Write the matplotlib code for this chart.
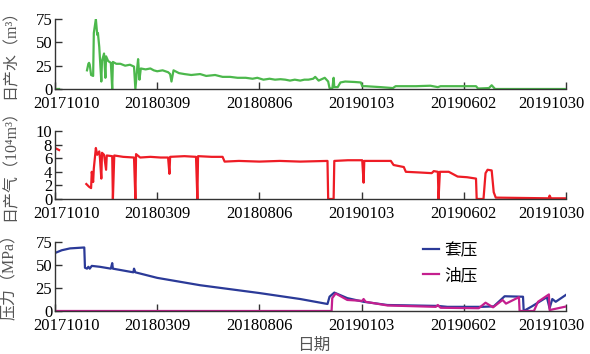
import numpy as np
import pandas as pd
import matplotlib
matplotlib.use('Agg')
import matplotlib.pyplot as plt
import matplotlib.transforms as mtransforms

plt.rcParams['font.family'] = ['Liberation Serif', 'Noto Sans CJK SC']

start = pd.Timestamp('2017-10-10')
nan = np.nan

# days after 2017-10-10 / values
water_days = [0, 6, 7, 47, 49, 50, 51, 53, 56, 57, 60, 62, 63, 65, 68, 69, 72, 74, 75, 78, 82, 84, 85,
              90, 96, 103, 110, 116, 118, 121, 122, 124, 126, 133, 140, 145, 150, 158, 166, 169, 171,
              174, 182, 190, 200, 213, 222, 235, 246, 257, 268, 280, 290, 297, 306, 315, 323, 331,
              338, 345, 352, 360, 366, 372, 379, 382, 387, 396, 401, 403, 407, 409, 410, 415,
              419, 426, 440, 449, 451, 456, 478, 496, 500, 530, 551, 562, 566, 600, 618, 621, 637,
              641, 646, 751]
water = [0, 0, nan, 20, 27, 28, 26, 15, 14, 60, 75, 58, 60, 45, 8, 30, 38, 12, 35, 30, 28, 0, 29,
         27, 27, 25, 26, 24, 0, 25, 32, 10, 22, 21, 22, 20, 19, 20, 18, 16, 8,
         20, 17, 16, 15, 16, 14, 15, 13, 13, 12, 12, 11, 12, 10, 11, 10, 10.5,
         10, 9, 10, 9, 10, 10, 11, 13, 9, 12, 8, 1, 0, 12, 2, 2,
         7, 8, 7.5, 7, 3, 3, 2, 1, 3, 3, 3.5, 2, 3, 3, 3, 0.5, 1,
         4, 0, 0]

gas_days = [0, 6, 7, 46, 50, 53, 54, 56, 57, 60, 62, 65, 66, 68, 69, 72, 75, 76, 84, 85, 87, 100, 116,
            118, 119, 125, 140, 155, 166, 168, 169, 190, 207, 209, 210, 230, 246, 249, 270, 300,
            330, 360, 400, 401, 409, 410, 430, 451, 453, 454, 470, 493, 497, 512, 515, 535, 553,
            556, 562, 563, 565, 578, 591, 605, 618, 619, 629, 632, 635, 641, 644, 647, 725, 726,
            728, 751]
gas = [7.5, 7.2, nan, 2.2, 1.8, 1.6, 4.0, 2.5, 4.5, 7.5, 6.5, 7.0, 6.0, 3.0, 6.8, 6.5, 4.3, 6.4, 6.3, 0, 6.4,
       6.2, 6.1,
       0, 6.6, 6.1, 6.2, 6.1, 6.1, 3.7, 6.2, 6.3, 6.2, 0, 6.3, 6.2, 6.2, 5.5, 5.6, 5.5,
       5.6, 5.5, 5.6, 0, 0, 5.6, 5.7, 5.7, 2.4, 5.6, 5.6, 5.6, 5.0, 4.7, 4.0, 3.9, 3.8,
       4.1, 4.0, 0, 4.0, 4.0, 3.3, 3.2, 3.0, 0, 0, 3.8, 4.3, 4.2, 1.0, 0.2, 0.1, 0.5,
       0.1, 0.1]

casing_days = [0, 10, 22, 43, 44, 47, 49, 51, 54, 66, 82, 84, 85, 115, 116, 118, 150, 213, 300, 360,
               400, 403, 410, 429, 453, 488, 562, 576, 625, 644, 660, 687, 688, 700, 722, 726, 730,
               735, 751]
casing = [63, 66, 68, 69, 47, 46, 48, 46, 49, 48, 46, 52, 46, 42, 46, 42, 36, 28, 19.5, 13,
          7.6, 15.5, 20, 14, 10, 6.5, 5.5, 4.5, 4.5, 5, 16, 15.5, 0, 5, 15, 3, 13, 10, 18]

tubing_days = [0, 406, 407, 412, 429, 451, 453, 456, 488, 559, 562, 566, 622, 632, 643, 657, 662,
               681, 682, 703, 709, 725, 726, 751]
tubing = [0, 0, 14, 19, 12, 11, 13, 10, 6, 4.5, 6.5, 3.5, 3, 9, 4, 12, 8,
          15, 0, 0, 10, 18, 1, 5]

tick_labels = ['20171010', '20180309', '20180806', '20190103', '20190602', '20191030']


def to_dates(days):
    return start + pd.to_timedelta(days, unit='D')


fig = plt.figure(figsize=(5.9, 3.54), dpi=100)
left, width = 0.0932, 0.866
ax1 = fig.add_axes([left, 0.7486, width, 0.1977])
ax2 = fig.add_axes([left, 0.4379, width, 0.192])
ax3 = fig.add_axes([left, 0.1215, width, 0.195])

ax1.plot(to_dates(water_days), water, color='#4cb84c', lw=1.6)
ax2.plot(to_dates(gas_days), gas, color='#ee1c25', lw=1.6)
ax3.plot(to_dates(casing_days), casing, color='#2b3a98', lw=1.6, label='套压')
ax3.plot(to_dates(tubing_days), tubing, color='#c41f8e', lw=1.6, label='油压')

ticks = pd.to_datetime(tick_labels, format='%Y%m%d')
for ax, ylim, yt, lab in [(ax1, 75, [0, 25, 50, 75], '日产水（m³）'),
                          (ax2, 10, [0, 2, 4, 6, 8, 10], '日产气（10⁴m³）'),
                          (ax3, 75, [0, 25, 50, 75], '压力（MPa）')]:
    ax.set_xlim(ticks[0], ticks[-1])
    ax.set_ylim(0, ylim)
    ax.set_yticks(yt)
    ax.set_xticks(ticks)
    ax.set_xticklabels(tick_labels)
    ax.spines['top'].set_visible(False)
    ax.spines['right'].set_visible(False)
    for s in ['left', 'bottom']:
        ax.spines[s].set_color('#333333')
        ax.spines[s].set_linewidth(1.0)
    ax.tick_params(direction='in', length=5, width=1, color='#333333', labelsize=12, pad=2)
    ax.tick_params(axis='x', pad=5)
    ax.set_ylabel(lab, fontsize=11.5, color='#555555')
    ax.yaxis.set_label_coords(-0.072, 0.55)
    labels = ax.get_xticklabels()
    labels[0].set_transform(labels[0].get_transform() +
                            mtransforms.ScaledTranslation(12 / 100, 0, fig.dpi_scale_trans))
    labels[-1].set_transform(labels[-1].get_transform() +
                             mtransforms.ScaledTranslation(-15 / 100, 0, fig.dpi_scale_trans))

ax3.legend(loc='upper left', bbox_to_anchor=(0.69, 1.2), frameon=False, fontsize=12,
           handlelength=1.0, handletextpad=0.3, labelspacing=0.55)
fig.text(0.532, 0.023, '日期', fontsize=12, ha='center', va='center', color='#555555')

fig.savefig('out.png', dpi=100)
